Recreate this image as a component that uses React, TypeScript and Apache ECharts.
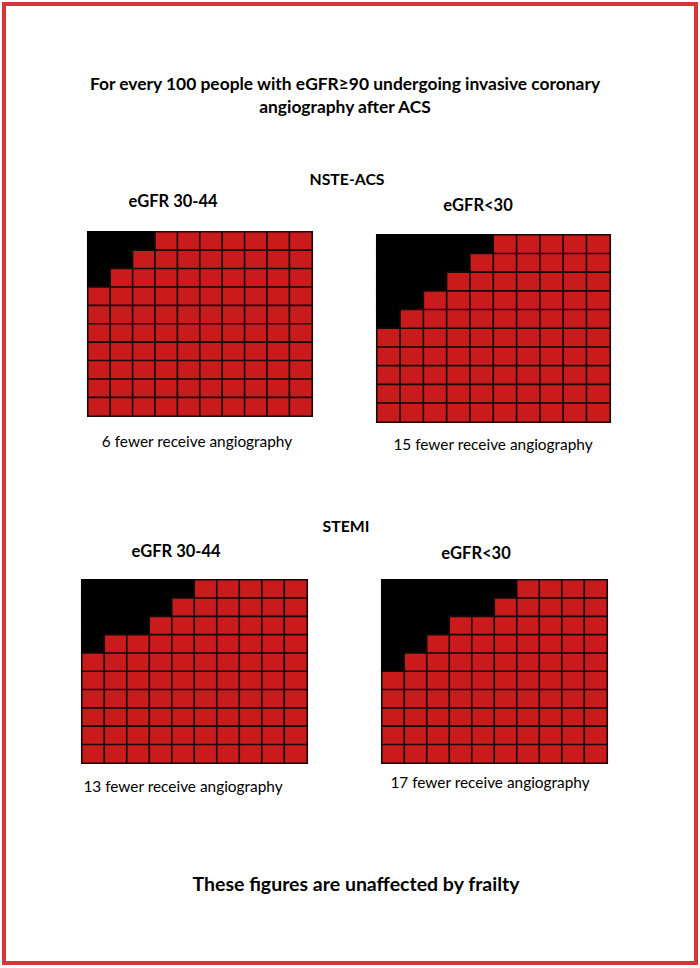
import React, { useEffect, useRef } from "react";
import * as echarts from "echarts";

// Number of black (fewer receiving angiography) cells in each row, top to bottom
const nsteEgfr3044 = [3, 2, 1, 0, 0, 0, 0, 0, 0, 0];
const nsteEgfr30 = [5, 4, 3, 2, 1, 0, 0, 0, 0, 0];
const stemiEgfr3044 = [5, 4, 3, 1, 0, 0, 0, 0, 0, 0];
const stemiEgfr30 = [6, 5, 3, 2, 1, 0, 0, 0, 0, 0];

const columns = ["1", "2", "3", "4", "5", "6", "7", "8", "9", "10"];
const rows = ["1", "2", "3", "4", "5", "6", "7", "8", "9", "10"];

const panelHeaders = ["eGFR 30-44", "eGFR<30", "eGFR 30-44", "eGFR<30"];
const panelNotes = [
  "6 fewer receive angiography",
  "15 fewer receive angiography",
  "13 fewer receive angiography",
  "17 fewer receive angiography",
];
const sectionTitles = ["NSTE-ACS", "STEMI"];
const titleLines = [
  "For every 100 people with eGFR\u226590 undergoing invasive coronary",
  "angiography after ACS",
];
const footer = "These figures are unaffected by frailty";

const panels = [nsteEgfr3044, nsteEgfr30, stemiEgfr3044, stemiEgfr30];

const RED = "#c91b1c";
const BLACK = "#000000";
const FONT = "Lato, 'Open Sans', sans-serif";

export default function App() {
  const ref = useRef<HTMLDivElement>(null);
  useEffect(() => {
    document.body.style.margin = "0";
    if (!ref.current) return;
    const chart = echarts.init(ref.current, undefined, { renderer: "svg" });

    const gridBoxes = [
      { left: 88, top: 232, width: 224, height: 184 },
      { left: 377, top: 235, width: 233, height: 187 },
      { left: 82, top: 580, width: 225, height: 183 },
      { left: 382, top: 580, width: 225, height: 183 },
    ];

    const series = panels.map((blackPerRow, gi) => {
      const data: any[] = [];
      rows.forEach((_, r) => {
        columns.forEach((_, c) => {
          const isBlack = c < blackPerRow[r];
          data.push(
            isBlack
              ? { value: [c, r, 1], itemStyle: { borderColor: BLACK } }
              : [c, r, 0]
          );
        });
      });
      return {
        type: "heatmap",
        xAxisIndex: gi,
        yAxisIndex: gi,
        data,
        itemStyle: { borderColor: "#170808", borderWidth: 1.6 },
        emphasis: { disabled: true },
        silent: true,
      };
    });

    const text = (
      t: string,
      x: number,
      y: number,
      size: number,
      bold: boolean,
      align: string = "center"
    ) => ({
      type: "text",
      x,
      y,
      style: {
        text: t,
        fill: "#000",
        font: `${bold ? "bold " : ""}${size}px ${FONT}`,
        textAlign: align,
        textVerticalAlign: "middle",
      },
    });

    const option: any = {
      animation: false,
      grid: gridBoxes,
      xAxis: gridBoxes.map((_, i) => ({
        type: "category",
        data: columns,
        gridIndex: i,
        show: false,
      })),
      yAxis: gridBoxes.map((_, i) => ({
        type: "category",
        data: rows,
        gridIndex: i,
        inverse: true,
        show: false,
      })),
      visualMap: {
        type: "piecewise",
        show: false,
        dimension: 2,
        seriesIndex: [0, 1, 2, 3],
        pieces: [
          { value: 0, color: RED },
          { value: 1, color: BLACK },
        ],
      },
      series,
      graphic: [
        {
          type: "rect",
          shape: { x: 4, y: 4, width: 692, height: 959 },
          style: { fill: "none", stroke: "#d8343a", lineWidth: 4 },
          silent: true,
        },
        text(titleLines[0], 345, 83, 17.4, true),
        text(titleLines[1], 345, 106, 17.4, true),
        text(sectionTitles[0], 347, 178, 15.8, true),
        text(panelHeaders[0], 173, 201, 16.5, true),
        text(panelHeaders[1], 478, 205, 16.5, true),
        text(panelNotes[0], 197, 441, 15.4, false),
        text(panelNotes[1], 493, 444, 15.4, false),
        text(sectionTitles[1], 346, 525, 15.8, true),
        text(panelHeaders[2], 176, 551, 16.5, true),
        text(panelHeaders[3], 476, 553, 16.5, true),
        text(panelNotes[2], 183, 786, 15.4, false),
        text(panelNotes[3], 490, 782, 15.4, false),
        text(footer, 356, 883, 19.5, true),
      ],
    };
    chart.setOption(option);
    return () => chart.dispose();
  }, []);
  return (
    <div
      ref={ref}
      style={{ width: 700, height: 968, background: "#ffffff" }}
    />
  );
}
